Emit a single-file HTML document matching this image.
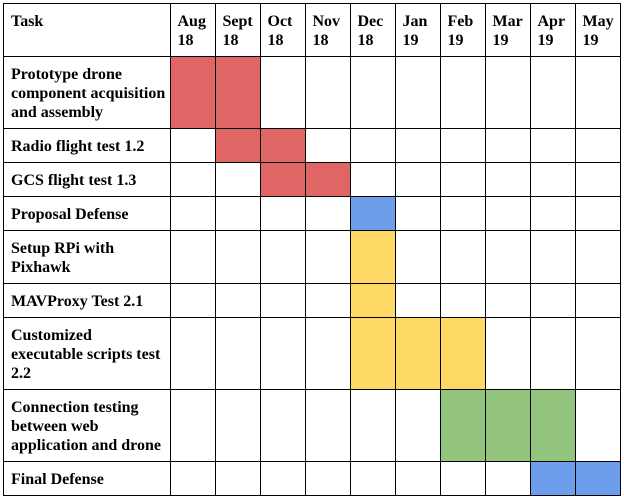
<!DOCTYPE html>
<html><head><meta charset="utf-8"><style>
body{margin:0;width:624px;height:499px;background:#fff;overflow:hidden;font-family:"Liberation Serif",serif;}
#chart{position:relative;width:624px;height:499px;}
.cell{position:absolute;box-sizing:border-box;border:1.3px solid #000;font-weight:bold;font-size:16px;line-height:19px;padding:8px 0 0 7px;color:#000;}
</style></head><body>
<div id="chart"></div>
<script>
const months=["Aug 18","Sept 18","Oct 18","Nov 18","Dec 18","Jan 19","Feb 19","Mar 19","Apr 19","May 19"];
const tasks=["Prototype drone component acquisition and assembly","Radio flight test 1.2","GCS flight test 1.3","Proposal Defense","Setup RPi with Pixhawk","MAVProxy Test 2.1","Customized executable scripts test 2.2","Connection testing between web application and drone","Final Defense"];
const startMonth=[0,1,2,4,4,4,4,6,8];
const endMonth=[1,2,3,4,4,4,6,8,9];
const colors=["#e06666","#e06666","#e06666","#6d9eeb","#ffd966","#ffd966","#ffd966","#93c47d","#6d9eeb"];
const rowLines=[3,56,128,162,196,230,283,317,389,461,495];
const x0=3,taskW=166.5,colW=45;
const chart=document.getElementById('chart');
function mk(x,y,w,h,txt,bg,name){
  const d=document.createElement('div');d.className='cell';
  d.style.left=x+'px';d.style.top=y+'px';d.style.width=(w+1.3)+'px';d.style.height=(h+1.3)+'px';
  if(bg)d.style.background=bg;
  if(txt){d.innerHTML=txt;}
  
  
  chart.appendChild(d);return d;
}
function colX(i){return x0+taskW+i*colW;}
mk(x0,rowLines[0],taskW,rowLines[1]-rowLines[0],"Task",null,"task-header");
months.forEach((m,i)=>{const p=m.split(' ');mk(colX(i),rowLines[0],colW,rowLines[1]-rowLines[0],p[0]+"<br>"+p[1],null,"month-header");});
tasks.forEach((t,r)=>{
  const y=rowLines[r+1],h=rowLines[r+2]-y;
  const c=mk(x0,y,taskW,h,t,null,"task-label");
  c.style.paddingRight='4px';
  months.forEach((m,i)=>{
    const on=i>=startMonth[r]&&i<=endMonth[r];
    mk(colX(i),y,colW,h,"",on?colors[r]:null,on?"task-bar-cell":"empty-cell");
  });
});
</script>
</body></html>
